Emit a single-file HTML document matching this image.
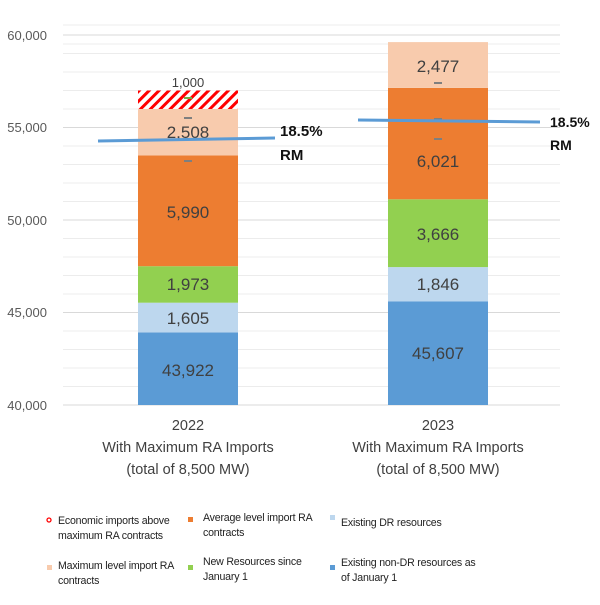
<!DOCTYPE html>
<html><head><meta charset="utf-8"><style>
body{margin:0;background:#fff;width:600px;height:600px;overflow:hidden}
svg text{font-family:"Liberation Sans",sans-serif}
.t{font-size:13px;fill:#595959}
.v{font-size:17px;fill:#404040;text-anchor:middle}
.c{font-size:14.5px;fill:#404040;text-anchor:middle}
.l{font-size:10.6px;fill:#222;letter-spacing:-0.2px}
.b{font-size:15px;font-weight:bold;fill:#111}
</style></head><body>
<svg width="600" height="600" xmlns="http://www.w3.org/2000/svg">
<defs><pattern id="h" width="7" height="7" patternUnits="userSpaceOnUse" patternTransform="rotate(45)"><rect width="7" height="7" fill="#fff"/><rect width="3" height="7" fill="#f00"/></pattern></defs>
<g stroke="#ececec" stroke-width="1">
<line x1="63" x2="560" y1="53.5" y2="53.5"/><line x1="63" x2="560" y1="72" y2="72"/><line x1="63" x2="560" y1="90.5" y2="90.5"/><line x1="63" x2="560" y1="109" y2="109"/>
<line x1="63" x2="560" y1="146" y2="146"/><line x1="63" x2="560" y1="164.5" y2="164.5"/><line x1="63" x2="560" y1="183" y2="183"/><line x1="63" x2="560" y1="201.5" y2="201.5"/>
<line x1="63" x2="560" y1="238.5" y2="238.5"/><line x1="63" x2="560" y1="257" y2="257"/><line x1="63" x2="560" y1="275.5" y2="275.5"/><line x1="63" x2="560" y1="294" y2="294"/>
<line x1="63" x2="560" y1="331" y2="331"/><line x1="63" x2="560" y1="349.5" y2="349.5"/><line x1="63" x2="560" y1="368" y2="368"/><line x1="63" x2="560" y1="386.5" y2="386.5"/>
<line x1="63" x2="560" y1="44" y2="44"/><line x1="63" x2="560" y1="25" y2="25"/>
</g>
<g stroke="#d9d9d9" stroke-width="1">
<line x1="63" x2="560" y1="35" y2="35"/><line x1="63" x2="560" y1="127.5" y2="127.5"/><line x1="63" x2="560" y1="220" y2="220"/><line x1="63" x2="560" y1="312.5" y2="312.5"/><line x1="63" x2="560" y1="405" y2="405"/>
</g>
<g class="t" text-anchor="end">
<text x="47" y="40">60,000</text><text x="47" y="132">55,000</text><text x="47" y="225">50,000</text><text x="47" y="317">45,000</text><text x="47" y="410">40,000</text>
</g>
<rect x="138" y="332.4" width="100" height="72.6" fill="#5b9bd5"/>
<rect x="138" y="302.7" width="100" height="29.7" fill="#bdd7ee"/>
<rect x="138" y="266.2" width="100" height="36.5" fill="#92d050"/>
<rect x="138" y="155.4" width="100" height="110.8" fill="#ed7d31"/>
<rect x="138" y="109" width="100" height="46.4" fill="#f8cbad"/>
<rect x="138" y="90.5" width="100" height="18.5" fill="url(#h)"/>
<rect x="388" y="301.3" width="100" height="103.7" fill="#5b9bd5"/>
<rect x="388" y="267.1" width="100" height="34.2" fill="#bdd7ee"/>
<rect x="388" y="199.3" width="100" height="67.8" fill="#92d050"/>
<rect x="388" y="87.9" width="100" height="111.4" fill="#ed7d31"/>
<rect x="388" y="42.1" width="100" height="45.8" fill="#f8cbad"/>
<g stroke="#7f7f7f" stroke-width="2">
<line x1="184" x2="192" y1="118" y2="118"/><line x1="184" x2="192" y1="161" y2="161"/>
<line x1="434" x2="442" y1="119" y2="119"/><line x1="434" x2="442" y1="139" y2="139"/><line x1="434" x2="442" y1="83" y2="83"/>
</g>
<line x1="184" x2="192" y1="98" y2="98" stroke="#70ad47" stroke-width="2"/>
<g>
<text class="v" x="188" y="376">43,922</text><text class="v" x="188" y="324">1,605</text><text class="v" x="188" y="290">1,973</text><text class="v" x="188" y="218">5,990</text><text class="v" x="188" y="138">2,508</text><text class="v" x="188" y="87" style="font-size:13px">1,000</text>
<text class="v" x="438" y="359">45,607</text><text class="v" x="438" y="290">1,846</text><text class="v" x="438" y="240">3,666</text><text class="v" x="438" y="167">6,021</text><text class="v" x="438" y="72">2,477</text>
</g>
<line x1="98" y1="141" x2="275" y2="138" stroke="#5b9bd5" stroke-width="3"/>
<line x1="358" y1="120" x2="540" y2="122" stroke="#5b9bd5" stroke-width="3"/>
<text class="b" x="280" y="136">18.5%</text><text class="b" x="280" y="160">RM</text>
<text class="b" x="550" y="127" style="font-size:14px">18.5%</text><text class="b" x="550" y="150" style="font-size:14px">RM</text>
<text class="c" x="188" y="430">2022</text><text class="c" x="188" y="452">With Maximum RA Imports</text><text class="c" x="188" y="474">(total of 8,500 MW)</text>
<text class="c" x="438" y="430">2023</text><text class="c" x="438" y="452">With Maximum RA Imports</text><text class="c" x="438" y="474">(total of 8,500 MW)</text>
<circle cx="49" cy="520" r="2" fill="none" stroke="#f00" stroke-width="1.3"/>
<text class="l" x="58" y="524">Economic imports above</text><text class="l" x="58" y="539">maximum RA contracts</text>
<rect x="188" y="517" width="5" height="5" fill="#ed7d31"/>
<text class="l" x="203" y="521">Average level import RA</text><text class="l" x="203" y="536">contracts</text>
<rect x="330" y="515" width="5" height="5" fill="#bdd7ee"/>
<text class="l" x="341" y="526">Existing DR resources</text>
<rect x="47" y="565" width="5" height="5" fill="#f8cbad"/>
<text class="l" x="58" y="569">Maximum level import RA</text><text class="l" x="58" y="584">contracts</text>
<rect x="188" y="565" width="5" height="5" fill="#92d050"/>
<text class="l" x="203" y="565">New Resources since</text><text class="l" x="203" y="580">January 1</text>
<rect x="330" y="565" width="5" height="5" fill="#5b9bd5"/>
<text class="l" x="341" y="566">Existing non-DR resources as</text><text class="l" x="341" y="581">of January 1</text>
</svg>
</body></html>
